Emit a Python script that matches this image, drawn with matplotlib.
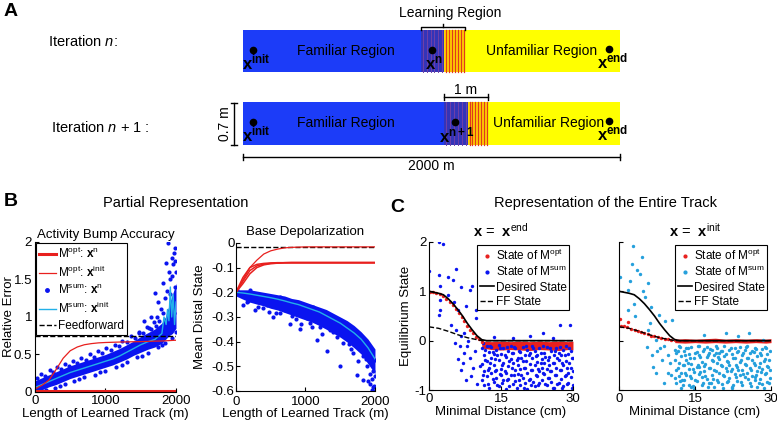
import numpy as np
import matplotlib
matplotlib.use("Agg")
import matplotlib.pyplot as plt
from matplotlib.lines import Line2D
from matplotlib.patches import Rectangle

plt.rcParams['font.family'] = ['Liberation Sans', 'DejaVu Sans']
plt.rcParams['mathtext.fontset'] = 'custom'
plt.rcParams['mathtext.rm'] = 'Liberation Sans'
plt.rcParams['mathtext.it'] = 'Liberation Sans:italic'
plt.rcParams['mathtext.bf'] = 'Liberation Sans:bold'

BLUE = '#0a14f0'
CYAN = '#22b0e8'
RED = '#e8201e'
LBLUE = '#25a0dc'

# ---------------- panel B, left: relative error ----------------
track_m = [0, 100, 200, 300, 400, 500, 600, 700, 800, 900, 1000, 1100, 1200,
           1300, 1400, 1500, 1600, 1700, 1800, 1850, 1900, 1950, 2000]
opt_xinit_err = [0.04, 0.09, 0.16, 0.3, 0.45, 0.55, 0.6, 0.63, 0.645, 0.655, 0.66, 0.663,
                 0.666, 0.668, 0.67, 0.672, 0.675, 0.678, 0.68, 0.682, 0.685, 0.688, 0.69]
opt_xn_x = [0, 2000]
opt_xn_err = [0.012, 0.012]
ff_err = 0.74
sum_band_lo = [0.0, 0.03, 0.07, 0.1, 0.14, 0.18, 0.21, 0.24, 0.27, 0.3, 0.33, 0.36, 0.4,
               0.44, 0.49, 0.53, 0.57, 0.6, 0.65, 0.7, 0.75, 0.78, 0.85]
sum_band_hi = [0.15, 0.19, 0.23, 0.27, 0.31, 0.35, 0.38, 0.41, 0.44, 0.47, 0.5, 0.54, 0.58,
               0.63, 0.68, 0.74, 0.79, 0.84, 0.92, 1.0, 1.15, 1.3, 1.45]
sum_err_x = [30, 90, 140, 210, 260, 310, 370, 430, 480, 540, 590, 650, 720, 780, 840, 890,
             950, 1010, 1080, 1130, 1190, 1240, 1310, 1360, 1420, 1480, 1530, 1590, 1640,
             1690, 1730, 1760, 1790, 1820, 1840, 1860, 1880, 1900, 1915, 1940, 1960, 1975,
             1990, 2000, 1870, 1950, 1700, 1750, 1820, 1640, 1550, 1985, 1910, 1990, 1930,
             1965, 150, 280, 420, 560, 700, 850, 1000, 1150, 1300, 1450, 1600, 1750, 1850,
             1950, 2000, 60, 350, 630, 920, 1230, 1520, 1800, 1480, 1620, 1720, 1810]
sum_err_y = [0.18, 0.24, 0.21, 0.29, 0.26, 0.33, 0.3, 0.37, 0.34, 0.41, 0.39, 0.45, 0.43,
             0.5, 0.47, 0.54, 0.52, 0.58, 0.56, 0.63, 0.61, 0.68, 0.66, 0.74, 0.72, 0.8,
             0.78, 0.86, 0.84, 0.93, 1.0, 0.95, 1.1, 1.05, 1.25, 1.72, 1.98, 1.6, 1.3, 1.78,
             1.7, 1.85, 1.92, 1.6, 1.35, 1.55, 1.32, 1.2, 1.45, 1.0, 0.95, 1.4, 1.5, 1.75,
             1.2, 1.05, 0.02, 0.05, 0.1, 0.15, 0.2, 0.23, 0.28, 0.33, 0.4, 0.46, 0.52, 0.6,
             0.65, 0.72, 0.8, 0.0, 0.08, 0.17, 0.26, 0.36, 0.48, 0.62, 0.78, 0.85, 0.88, 0.82]
sum_mean_x = [0, 100, 200, 300, 400, 500, 600, 700, 800, 900, 1000, 1100, 1200, 1300, 1400,
              1500, 1600, 1700, 1800, 1830, 1860, 1880, 1900, 1920, 1940, 1960, 1980, 2000]
sum_mean_err = [0.06, 0.1, 0.14, 0.18, 0.22, 0.26, 0.29, 0.32, 0.35, 0.38, 0.41, 0.44, 0.48,
                0.53, 0.58, 0.63, 0.67, 0.7, 0.78, 1.0, 0.9, 1.1, 0.95, 1.4, 1.0, 1.3, 0.9, 1.2]

# ---------------- panel B, right: mean distal state ----------------
dist_x = [0, 100, 200, 300, 400, 500, 600, 700, 800, 900, 1000, 1100, 1200, 1300, 1400,
          1500, 1600, 1700, 1800, 1900, 2000]
ff_dist = -0.015
opt_xinit_dist = [-0.2, -0.15, -0.1, -0.07, -0.045, -0.032, -0.025, -0.02, -0.018, -0.017,
                  -0.016, -0.016, -0.016, -0.016, -0.016, -0.016, -0.016, -0.016, -0.016,
                  -0.016, -0.016]
opt_xn_dist_a = [-0.2, -0.14, -0.1, -0.087, -0.083, -0.081, -0.08, -0.08, -0.08, -0.08, -0.08,
                 -0.08, -0.08, -0.08, -0.08, -0.08, -0.08, -0.08, -0.08, -0.08, -0.08]
opt_xn_dist_b = [-0.2, -0.155, -0.112, -0.093, -0.086, -0.083, -0.082, -0.081, -0.081, -0.081,
                 -0.081, -0.081, -0.081, -0.081, -0.081, -0.081, -0.081, -0.081, -0.081,
                 -0.081, -0.081]
opt_xn_dist_c = [-0.2, -0.165, -0.125, -0.1, -0.089, -0.084, -0.082, -0.08, -0.079, -0.079,
                 -0.079, -0.079, -0.079, -0.079, -0.079, -0.079, -0.079, -0.079, -0.079,
                 -0.079, -0.079]
sum_dist_mean = [-0.2, -0.203, -0.207, -0.212, -0.217, -0.222, -0.228, -0.235, -0.243, -0.25,
                 -0.26, -0.27, -0.28, -0.295, -0.31, -0.325, -0.345, -0.365, -0.39, -0.425, -0.47]
sum_dist_hi = [-0.19, -0.19, -0.19, -0.195, -0.2, -0.205, -0.21, -0.215, -0.225, -0.23, -0.24,
               -0.25, -0.26, -0.27, -0.285, -0.3, -0.315, -0.335, -0.36, -0.39, -0.43]
sum_dist_lo = [-0.215, -0.228, -0.24, -0.248, -0.255, -0.265, -0.272, -0.282, -0.292, -0.302,
               -0.312, -0.322, -0.335, -0.35, -0.366, -0.382, -0.402, -0.425, -0.45, -0.49, -0.53]
sum_dist_pts_x = [273, 393, 537, 777, 921, 801, 1065, 1352, 1160, 1305, 1496, 1544, 1736, 1832,
                  1928, 1976, 1880, 1976, 2000, 1688, 1832, 1928, 1952, 1784, 1592, 105, 177,
                  633, 1017, 1209, 1448, 10, 201, 633, 1113, 1496, 1736, 1928, 1990, 1960,
                  1870, 1620, 1400, 700, 450, 320, 580, 860, 1240, 1660, 1900, 2000, 1985,
                  1760, 1100, 940, 480, 160]
sum_dist_pts_y = [-0.272, -0.265, -0.3, -0.33, -0.35, -0.296, -0.325, -0.353, -0.393, -0.44,
                  -0.5, -0.407, -0.535, -0.555, -0.57, -0.583, -0.5, -0.52, -0.475, -0.447,
                  -0.46, -0.53, -0.596, -0.427, -0.38, -0.25, -0.237, -0.285, -0.305, -0.339,
                  -0.38, -0.19, -0.19, -0.218, -0.258, -0.319, -0.366, -0.42, -0.6, -0.55,
                  -0.47, -0.41, -0.36, -0.27, -0.25, -0.26, -0.285, -0.31, -0.37, -0.43,
                  -0.56, -0.54, -0.58, -0.48, -0.34, -0.33, -0.28, -0.24]

# ---------------- panel C: equilibrium state vs distance ----------------
dist_cm = [0, 1, 2, 3, 4, 5, 6, 7, 8, 9, 10, 11, 12, 30]
desired_state = [1.0, 0.98, 0.96, 0.93, 0.85, 0.75, 0.63, 0.5, 0.35, 0.22, 0.1, 0.02, 0.0, 0.0]
ff_cm = [0, 2, 4, 6, 8, 10, 11, 30]
ff_state = [0.28, 0.25, 0.19, 0.12, 0.06, 0.02, 0.0, 0.0]

# M^opt at x_end: follows the desired curve, then a band just below zero
opt_end_x = [0.2, 0.8, 1.5, 2.2, 3.0, 3.6, 4.3, 5.0, 5.6, 6.2, 6.8, 7.4, 8.0, 8.6, 9.2, 9.8, 10.4, 11.0]
opt_end_y = [0.99, 0.98, 0.96, 0.94, 0.9, 0.85, 0.79, 0.72, 0.64, 0.57, 0.48, 0.4, 0.3, 0.22, 0.15, 0.08, 0.04, -0.02]
opt_end_band_x = [11, 13, 15, 17, 19, 21, 23, 25, 27, 29, 30]
opt_end_band_lo = [-0.15, -0.18, -0.19, -0.18, -0.19, -0.2, -0.18, -0.19, -0.2, -0.18, -0.19]
opt_end_band_hi = [-0.01, -0.02, -0.01, -0.02, -0.01, -0.02, -0.01, -0.02, -0.01, -0.02, -0.01]

# M^opt at x_init: follows the FF curve, then a thin band around zero
opt_init_x = [0.1, 0.3, 0.9, 1.6, 1.8, 2.4, 3.1, 3.7, 4.4, 5.0, 5.7, 6.3, 7.0, 7.6, 8.3, 9.0, 9.6, 10.3, 11.0]
opt_init_y = [0.43, 0.3, 0.29, 0.27, 0.38, 0.24, 0.22, 0.2, 0.17, 0.15, 0.13, 0.1, 0.09, 0.07, 0.05, 0.04, 0.03, 0.02, 0.01]
opt_init_band_x = [11, 13, 15, 17, 19, 21, 23, 25, 27, 29, 30]
opt_init_band_lo = [-0.04, -0.05, -0.04, -0.05, -0.04, -0.05, -0.04, -0.05, -0.04, -0.05, -0.04]
opt_init_band_hi = [0.03, 0.04, 0.03, 0.04, 0.05, 0.03, 0.04, 0.03, 0.04, 0.03, 0.04]

# M^sum at x_end, read point by point
sum_end_x = [2.1, 2.9, 0.0, 2.1, 5.7, 4.0, 2.2, 5.0, 6.7, 8.5, 9.0, 2.2, 2.0, 2.2, 4.0, 5.3,
             6.0, 7.8, 9.9, 9.9, 4.6, 5.7, 6.7, 7.4, 8.1, 6.4, 7.4, 8.5, 6.0, 6.7, 8.8, 7.8,
             10.6, 9.5, 10.0, 9.2, 7.0, 5.5, 8.0, 23.8, 27.2, 29.3, 21.0, 25.8, 17.5, 13.6,
             11.0, 11.0, 11.0, 11.5, 11.5, 11.5, 12.0, 12.0, 12.0, 12.5, 12.5, 12.5,
             13.0, 13.0, 13.0, 13.5, 13.5, 13.5, 14.0, 14.0, 14.0, 14.5, 14.5, 14.5,
             15.0, 15.0, 15.0, 15.5, 15.5, 15.5, 16.0, 16.0, 16.0, 16.5, 16.5, 16.5,
             17.0, 17.0, 17.0, 17.5, 17.5, 17.5, 18.0, 18.0, 18.0, 18.5, 18.5, 18.5,
             19.0, 19.0, 19.0, 19.5, 19.5, 19.5, 20.0, 20.0, 20.0, 20.5, 20.5, 20.5,
             21.0, 21.0, 21.0, 21.5, 21.5, 21.5, 22.0, 22.0, 22.0, 22.5, 22.5, 22.5,
             23.0, 23.0, 23.0, 23.5, 23.5, 23.5, 24.0, 24.0, 24.0, 24.5, 24.5, 24.5,
             25.0, 25.0, 25.0, 25.5, 25.5, 25.5, 26.0, 26.0, 26.0, 26.5, 26.5, 26.5,
             27.0, 27.0, 27.0, 27.5, 27.5, 27.5, 28.0, 28.0, 28.0, 28.5, 28.5, 28.5,
             29.0, 29.0, 29.0, 29.5, 29.5, 29.5, 30.0, 30.0, 30.0]
sum_end_y = [2.0, 1.95, 1.42, 1.34, 1.46, 1.29, 1.1, 1.22, 1.09, 1.02, 1.11, 0.83, 0.52, 0.63,
             0.93, 0.78, 0.63, 0.7, 0.63, 0.46, 0.32, 0.22, 0.09, 0.16, -0.01, -0.11, -0.25,
             -0.35, -0.38, -0.59, -0.72, -0.79, -0.52, -0.2, -0.88, -0.55, -0.45, -0.05, -0.1,
             0.16, 0.32, 0.32, 0.09, 0.05, 0.05, 0.08,
             -0.15, -0.48, -0.8, -0.3, -0.62, -0.9, -0.1, -0.42, -0.71, -0.22, -0.55, -0.95,
             -0.35, -0.66, -0.12, -0.5, -0.84, -0.27, -0.18, -0.6, -0.75, -0.4, -0.92, -0.08,
             -0.28, -0.57, -0.7, -0.45, -0.8, -0.15, -0.33, -0.65, -0.98, -0.2, -0.52, -0.77,
             -0.38, -0.7, -0.1, -0.25, -0.46, -0.88, -0.6, -0.14, -0.82, -0.35, -0.68, -0.5,
             -0.22, -0.9, -0.58, -0.42, -0.75, -0.12, -0.3, -0.55, -0.85, -0.18, -0.65, -0.97,
             -0.48, -0.78, -0.26, -0.36, -0.6, -0.1, -0.2, -0.5, -0.92, -0.44, -0.72, -0.3,
             -0.15, -0.62, -0.86, -0.38, -0.55, -0.8, -0.25, -0.68, -0.45, -0.12, -0.58, -0.9,
             -0.34, -0.76, -0.5, -0.2, -0.62, -0.83, -0.46, -0.3, -0.95, -0.14, -0.55, -0.7,
             -0.4, -0.85, -0.24, -0.3, -0.6, -0.78, -0.18, -0.5, -0.92, -0.42, -0.7, -0.1,
             -0.28, -0.65, -0.85, -0.2, -0.55, -0.74, -0.35, -0.62, -0.9]
sum_end_x2 = [11.25, 11.25, 11.75, 11.75, 12.25, 12.25, 12.75, 12.75, 13.25, 13.25, 13.75, 13.75,
              14.25, 14.25, 14.75, 14.75, 15.25, 15.25, 15.75, 15.75, 16.25, 16.25, 16.75, 16.75,
              17.25, 17.25, 17.75, 17.75, 18.25, 18.25, 18.75, 18.75, 19.25, 19.25, 19.75, 19.75,
              20.25, 20.25, 20.75, 20.75, 21.25, 21.25, 21.75, 21.75, 22.25, 22.25, 22.75, 22.75,
              23.25, 23.25, 23.75, 23.75, 24.25, 24.25, 24.75, 24.75, 25.25, 25.25, 25.75, 25.75,
              26.25, 26.25, 26.75, 26.75, 27.25, 27.25, 27.75, 27.75, 28.25, 28.25, 28.75, 28.75,
              29.25, 29.25, 29.75, 29.75]
sum_end_y2 = [-0.05, -0.7, -0.4, -0.18, -0.6, -0.88, -0.1, -0.45, -0.78, -0.22, -0.62, -0.38,
              -0.9, -0.3, -0.15, -0.68, -0.5, -0.85, -0.3, -0.62, -0.12, -0.8, -0.42, -0.92,
              -0.55, -0.25, -0.7, -0.12, -0.4, -0.95, -0.2, -0.8, -0.7, -0.35, -0.55, -0.95,
              -0.42, -0.1, -0.8, -0.3, -0.6, -0.9, -0.15, -0.84, -0.7, -0.32, -0.58, -0.9,
              -0.26, -0.46, -0.66, -0.1, -0.88, -0.34, -0.4, -0.75, -0.15, -0.62, -0.45, -0.95,
              -0.7, -0.2, -0.36, -0.88, -0.6, -0.12, -0.45, -0.95, -0.3, -0.72, -0.56, -0.88,
              -0.14, -0.45, -0.35, -0.95]

# M^sum at x_init, read point by point
sum_init_x = [2.8, 0.2, 2.2, 1.8, 4.5, 3.5, 4.1, 5.8, 5.1, 6.4, 7.8, 9.1, 10.4, 1.8, 3.2, 5.8,
              7.2, 5.5, 6.8, 8.4, 9.7, 11.1, 12.4, 15.7, 19.2, 21.1, 25.7, 28.4, 14.3, 18.2,
              22.2, 26.8, 29.5, 3.0, 4.8, 6.2, 7.5, 8.8, 10.0, 2.5, 16.8, 23.5,
              11.3, 11.3, 11.3, 11.8, 11.8, 11.8, 12.3, 12.3, 12.3, 12.8, 12.8, 12.8,
              13.3, 13.3, 13.3, 13.8, 13.8, 13.8, 14.3, 14.3, 14.3, 14.8, 14.8, 14.8,
              15.3, 15.3, 15.3, 15.8, 15.8, 15.8, 16.3, 16.3, 16.3, 16.8, 16.8, 16.8,
              17.3, 17.3, 17.3, 17.8, 17.8, 17.8, 18.3, 18.3, 18.3, 18.8, 18.8, 18.8,
              19.3, 19.3, 19.3, 19.8, 19.8, 19.8, 20.3, 20.3, 20.3, 20.8, 20.8, 20.8,
              21.3, 21.3, 21.3, 21.8, 21.8, 21.8, 22.3, 22.3, 22.3, 22.8, 22.8, 22.8,
              23.3, 23.3, 23.3, 23.8, 23.8, 23.8, 24.3, 24.3, 24.3, 24.8, 24.8, 24.8,
              25.3, 25.3, 25.3, 25.8, 25.8, 25.8, 26.3, 26.3, 26.3, 26.8, 26.8, 26.8,
              27.3, 27.3, 27.3, 27.8, 27.8, 27.8, 28.3, 28.3, 28.3, 28.8, 28.8, 28.8,
              29.3, 29.3, 29.3, 29.8, 29.8, 29.8]
sum_init_y = [1.91, 1.3, 1.2, 1.03, 1.7, 1.43, 1.36, 1.16, 0.89, 0.69, 0.52, 0.39, 0.42, 0.62,
              0.49, 0.22, 0.01, -0.12, -0.53, -0.39, -0.66, -0.19, -0.8, -0.53, -0.26, 0.15,
              0.15, 0.01, -0.93, -0.86, -0.93, -0.73, -0.53, 0.75, 1.0, 0.35, -0.2, -0.1,
              -0.45, 1.55, 0.12, 0.1,
              -0.25, -0.6, -0.85, -0.1, -0.45, -0.72, -0.32, -0.66, -0.95, -0.2, -0.5, -0.8,
              -0.4, -0.7, -0.15, -0.28, -0.58, -0.9, -0.12, -0.48, -0.76, -0.36, -0.64, -0.98,
              -0.22, -0.54, -0.82, -0.3, -0.68, -0.1, -0.44, -0.74, -0.9, -0.16, -0.52, -0.62,
              -0.34, -0.78, -0.12, -0.26, -0.56, -0.86, -0.4, -0.7, -0.18, -0.3, -0.6, -0.94,
              -0.14, -0.46, -0.8, -0.38, -0.66, -0.24, -0.2, -0.52, -0.88, -0.32, -0.72, -0.1,
              -0.42, -0.62, -0.84, -0.18, -0.5, -0.76, -0.28, -0.58, -0.96, -0.36, -0.68, -0.14,
              -0.22, -0.54, -0.82, -0.44, -0.7, -0.12, -0.3, -0.6, -0.9, -0.18, -0.48, -0.74,
              -0.36, -0.66, -0.1, -0.26, -0.56, -0.86, -0.4, -0.72, -0.2, -0.14, -0.5, -0.8,
              -0.32, -0.62, -0.94, -0.24, -0.46, -0.78, -0.16, -0.58, -0.88, -0.38, -0.68, -0.12,
              -0.28, -0.52, -0.84, -0.2, -0.6, -0.76]
sum_init_x2 = [6.5, 7.3, 8.1, 8.9, 9.6, 10.3, 11.05, 11.05, 11.55, 11.55, 12.05, 12.05, 12.55,
               12.55, 13.05, 13.05, 13.55, 13.55, 14.05, 14.05, 14.55, 14.55, 15.05, 15.05,
               15.55, 15.55, 16.05, 16.05, 16.55, 16.55, 17.05, 17.05, 17.55, 17.55, 18.05,
               18.05, 18.55, 18.55, 19.05, 19.05, 19.55, 19.55, 20.05, 20.05, 20.55, 20.55,
               21.05, 21.05, 21.55, 21.55, 22.05, 22.05, 22.55, 22.55, 23.05, 23.05, 23.55,
               23.55, 24.05, 24.05, 24.55, 24.55, 25.05, 25.05, 25.55, 25.55, 26.05, 26.05,
               26.55, 26.55, 27.05, 27.05, 27.55, 27.55, 28.05, 28.05, 28.55, 28.55, 29.05,
               29.05, 29.55, 29.55]
sum_init_y2 = [-0.3, -0.65, -0.15, -0.85, -0.3, -0.7, -0.4, -0.75, -0.2, -0.55, -0.82, -0.12,
               -0.5, -0.9, -0.3, -0.66, -0.15, -0.46, -0.72, -0.35, -0.58, -0.92, -0.26, -0.8,
               -0.5, -0.1, -0.64, -0.34, -0.86, -0.2, -0.48, -0.72, -0.3, -0.94, -0.56, -0.16,
               -0.78, -0.42, -0.1, -0.62, -0.34, -0.84, -0.5, -0.2, -0.7, -0.96, -0.28, -0.56,
               -0.44, -0.82, -0.14, -0.62, -0.36, -0.9, -0.5, -0.74, -0.2, -0.6, -0.84, -0.4,
               -0.26, -0.68, -0.5, -0.12, -0.78, -0.36, -0.6, -0.92, -0.22, -0.46, -0.7, -0.16,
               -0.54, -0.86, -0.3, -0.64, -0.42, -0.96, -0.14, -0.66, -0.4, -0.86]

fig = plt.figure(figsize=(7.77, 4.23), dpi=100)

# ---------------- panel A: schematic drawn in pixel coordinates ----------------
ax_a = fig.add_axes([0, 0, 1, 1])
ax_a.set_xlim(0, 777)
ax_a.set_ylim(423, 0)
ax_a.axis('off')

track_left, track_right = 243, 620
rows = [  # (top, bottom, learn start, learn middle, learn end, x label, unfamiliar text x)
    (30, 72, 421, 444, 465, r'$\mathbf{x}^{\mathbf{n}}$', 542),
    (102, 145, 444, 468, 488, r'$\mathbf{x}^{\mathbf{n+1}}$', 549),
]
for top, bot, l0, l1, l2, lab, ux in rows:
    h = bot - top
    ax_a.add_patch(Rectangle((track_left, top), l1 - track_left, h, color='#1c3cf8', lw=0))
    ax_a.add_patch(Rectangle((l1, top), track_right - l1, h, color='#ffff00', lw=0))
    ax_a.add_patch(Rectangle((l0, top), l1 - l0, h, color='#3434b8', lw=0))
    ax_a.add_patch(Rectangle((l1, top), l2 - l1, h, color='#ffd400', lw=0))
    for sx in np.linspace(l0 + 2, l1 - 2, 6):
        ax_a.plot([sx, sx], [top, bot], color='#7040a8', lw=0.7)
    for sx in np.linspace(l1 + 1.5, l2 - 1, 7):
        ax_a.plot([sx, sx], [top, bot], color='#e03a1c', lw=0.9)
    mid = (top + bot) / 2
    ax_a.text(346, mid, 'Familiar Region', fontsize=10, ha='center', va='center')
    ax_a.text(ux, mid, 'Unfamiliar Region', fontsize=10, ha='center', va='center')
    ax_a.plot([253], [mid - 1], 'ko', ms=4.5)
    ax_a.text(256, mid + 11, r'$\mathbf{x}^{\mathbf{init}}$', fontsize=12, ha='center', va='center')
    xn = (l0 + l1) / 2 - 1
    ax_a.plot([xn], [mid - 1], 'ko', ms=4.5)
    ax_a.text(xn + 2, mid + 12, lab, fontsize=12, ha='center', va='center')
    ax_a.plot([609], [mid - 2], 'ko', ms=4.5)
    ax_a.text(613, mid + 10, r'$\mathbf{x}^{\mathbf{end}}$', fontsize=12, ha='center', va='center')

ax_a.text(48, 42, r'Iteration $n$:', fontsize=10.5, ha='left', va='center')
ax_a.text(51, 128, r'Iteration $n$ + 1 :', fontsize=10.5, ha='left', va='center')

# learning region bracket
ax_a.plot([421, 421, 465, 465], [30, 27, 27, 30], color='k', lw=1)
ax_a.plot([443, 443], [27, 24], color='k', lw=1)
ax_a.text(450, 13, 'Learning Region', fontsize=10, ha='center', va='center')
# 1 m bar
ax_a.plot([444, 488], [97, 97], color='k', lw=1)
ax_a.plot([444, 444], [94, 100], color='k', lw=1)
ax_a.plot([488, 488], [94, 100], color='k', lw=1)
ax_a.text(466, 90, '1 m', fontsize=10, ha='center', va='center')
# 0.7 m bar
ax_a.plot([234, 234], [103, 145], color='k', lw=1)
ax_a.plot([231, 237], [103, 103], color='k', lw=1)
ax_a.plot([231, 237], [145, 145], color='k', lw=1)
ax_a.text(225, 124, '0.7 m', fontsize=10, ha='center', va='center', rotation=90)
# 2000 m bar
ax_a.plot([243, 620], [157, 157], color='k', lw=1)
ax_a.plot([243, 243], [154, 160], color='k', lw=1)
ax_a.plot([620, 620], [154, 160], color='k', lw=1)
ax_a.text(431, 166, '2000 m', fontsize=10, ha='center', va='center')

ax_a.text(4, 12, 'A', fontsize=14, fontweight='bold', va='center')
ax_a.text(4, 202, 'B', fontsize=14, fontweight='bold', va='center')
ax_a.text(390, 208, 'C', fontsize=14, fontweight='bold', va='center')
ax_a.text(176, 203, 'Partial Representation', fontsize=10.5, ha='center', va='center')
ax_a.text(605, 203, 'Representation of the Entire Track', fontsize=10.5, ha='center', va='center')

LAB = 9.5


def style(ax):
    ax.spines['top'].set_visible(False)
    ax.spines['right'].set_visible(False)
    ax.tick_params(direction='in', length=3, labelsize=9.5, pad=2)


# ---------------- panel B left ----------------
ax1 = fig.add_axes([0.045, 0.0733, 0.1815, 0.3546])
ax1.fill_between(track_m, sum_band_lo, sum_band_hi, color=BLUE, lw=0)
ax1.scatter(sum_err_x, sum_err_y, s=9, color=BLUE, lw=0)
ax1.plot(sum_mean_x, sum_mean_err, color=CYAN, lw=1)
ax1.plot(opt_xn_x, opt_xn_err, color=RED, lw=2.2)
ax1.plot(track_m, opt_xinit_err, color=RED, lw=0.9)
ax1.axhline(ff_err, color='k', ls='--', lw=1)
ax1.set_xlim(0, 2000)
ax1.set_ylim(0, 2)
ax1.set_xticks([0, 1000, 2000])
ax1.set_yticks([0, 0.5, 1, 1.5, 2])
ax1.set_yticklabels(['0', '0.5', '1', '1.5', '2'])
style(ax1)
ax1.set_xlabel('Length of Learned Track (m)', fontsize=LAB, labelpad=1)
ax1.set_ylabel('Relative Error', fontsize=LAB)
ax1.yaxis.set_label_coords(-0.145, 0.5)
ax1.set_title('Activity Bump Accuracy', fontsize=LAB, pad=3)
h1 = [Line2D([], [], color=RED, lw=2.2),
      Line2D([], [], color=RED, lw=0.9),
      Line2D([], [], color=BLUE, ls='none', marker='o', ms=2.5),
      Line2D([], [], color=CYAN, lw=1),
      Line2D([], [], color='k', ls='--', lw=1)]
l1 = [r'M$^{\rm opt}$: $\mathbf{x}^{\rm n}$', r'M$^{\rm opt}$: $\mathbf{x}^{\rm init}$',
      r'M$^{\rm sum}$: $\mathbf{x}^{\rm n}$', r'M$^{\rm sum}$: $\mathbf{x}^{\rm init}$',
      'Feedforward']
leg = ax1.legend(h1, l1, loc='upper left', fontsize=8.5, handlelength=1.4, handletextpad=0.2,
                 borderpad=0.25, labelspacing=0.3, borderaxespad=0.1, fancybox=False,
                 edgecolor='k', framealpha=1)
leg.get_frame().set_linewidth(0.8)

# ---------------- panel B right ----------------
ax2 = fig.add_axes([0.3037, 0.0757, 0.1789, 0.35])
ax2.fill_between(dist_x, sum_dist_lo, sum_dist_hi, color=BLUE, lw=0)
ax2.scatter(sum_dist_pts_x, sum_dist_pts_y, s=9, color=BLUE, lw=0)
ax2.plot(dist_x, sum_dist_mean, color=CYAN, lw=1)
ax2.axhline(ff_dist, color='k', ls='--', lw=1)
ax2.plot(dist_x, opt_xinit_dist, color=RED, lw=0.9)
for series in (opt_xn_dist_a, opt_xn_dist_b, opt_xn_dist_c):
    ax2.plot(dist_x, series, color=RED, lw=1.1)
ax2.set_xlim(0, 2000)
ax2.set_ylim(-0.6, 0)
ax2.set_xticks([0, 1000, 2000])
ax2.set_yticks([-0.6, -0.5, -0.4, -0.3, -0.2, -0.1, 0])
ax2.set_yticklabels(['-0.6', '-0.5', '-0.4', '-0.3', '-0.2', '-0.1', '0'])
style(ax2)
ax2.tick_params(axis='y', pad=1)
ax2.tick_params(axis='x', pad=3.5)
ax2.set_xlabel('Length of Learned Track (m)', fontsize=LAB, labelpad=0)
ax2.set_ylabel('Mean Distal State', fontsize=LAB)
ax2.yaxis.set_label_coords(-0.215, 0.5)
ax2.set_title('Base Depolarization', fontsize=LAB, pad=6)


# ---------------- panel C ----------------
def state_panel(ax, rx, ry, bx, blo, bhi, sx, sy, sx2, sy2, scol, title):
    ax.fill_between(bx, blo, bhi, color=RED, lw=0)
    ax.scatter(sx, sy, s=6, color=scol, lw=0)
    ax.scatter(sx2, sy2, s=6, color=scol, lw=0)
    ax.scatter(rx, ry, s=6, color=RED, lw=0)
    ax.plot(dist_cm, desired_state, color='k', lw=1.2)
    ax.plot(ff_cm, ff_state, color='k', ls='--', lw=1)
    ax.set_xlim(0, 30)
    ax.set_ylim(-1, 2)
    ax.set_xticks([0, 15, 30])
    ax.set_yticks([-1, 0, 1, 2])
    style(ax)
    ax.set_xlabel('Minimal Distance (cm)', fontsize=LAB, labelpad=1)
    ax.set_title(title, fontsize=10.5, pad=4)
    hh = [Line2D([], [], color=RED, ls='none', marker='o', ms=2),
          Line2D([], [], color=scol, ls='none', marker='o', ms=2),
          Line2D([], [], color='k', lw=1.2),
          Line2D([], [], color='k', ls='--', lw=1)]
    ll = [r'State of M$^{\rm opt}$', r'State of M$^{\rm sum}$', 'Desired State', 'FF State']
    lg = ax.legend(hh, ll, loc='upper right', fontsize=8.5, handlelength=1.2, handletextpad=0.2,
                   borderpad=0.2, labelspacing=0.2, borderaxespad=0.3, fancybox=False,
                   edgecolor='k', framealpha=1)
    lg.get_frame().set_linewidth(0.8)


ax3 = fig.add_axes([0.5521, 0.078, 0.1853, 0.35])
state_panel(ax3, opt_end_x, opt_end_y, opt_end_band_x, opt_end_band_lo, opt_end_band_hi,
            sum_end_x, sum_end_y, sum_end_x2, sum_end_y2, BLUE,
            r'$\mathbf{x}$ =  $\mathbf{x}^{\rm end}$')
ax3.set_yticklabels(['-1', '0', '1', '2'])
ax3.set_ylabel('Equilibrium State', fontsize=LAB)
ax3.yaxis.set_label_coords(-0.12, 0.5)

ax4 = fig.add_axes([0.7967, 0.078, 0.1956, 0.35])
state_panel(ax4, opt_init_x, opt_init_y, opt_init_band_x, opt_init_band_lo, opt_init_band_hi,
            sum_init_x, sum_init_y, sum_init_x2, sum_init_y2, LBLUE,
            r'$\mathbf{x}$ =  $\mathbf{x}^{\rm init}$')
ax4.set_yticklabels([])

fig.savefig('out.png', dpi=100)
